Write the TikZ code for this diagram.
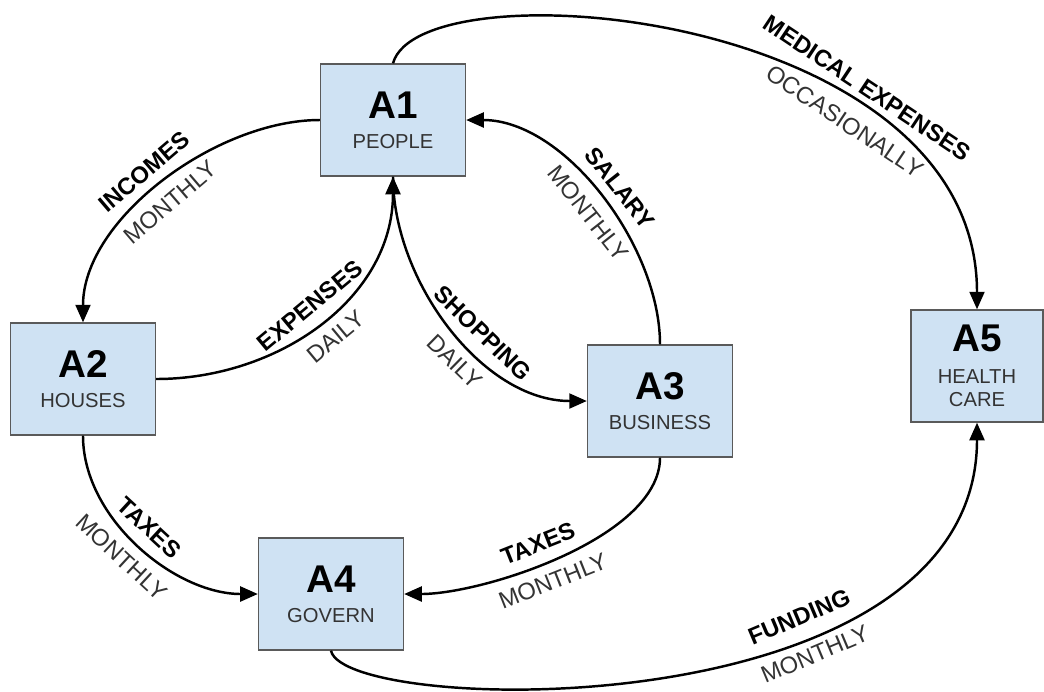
\documentclass[tikz,border=0pt]{standalone}
\usepackage{fontspec}
\setmainfont{Liberation Sans}
\usepackage{tikz}
\usetikzlibrary{arrows.meta}

\definecolor{boxfill}{HTML}{CFE2F3}
\definecolor{boxline}{HTML}{5A5A5A}
\definecolor{subtext}{HTML}{333333}

\newcommand{\boxid}[1]{{\fontsize{22}{24}\selectfont\bfseries #1}}
\newcommand{\boxsub}[1]{{\fontsize{11.5}{15}\selectfont\color{subtext}#1}}

\tikzset{
  blk/.style={draw=boxline, line width=0.8pt, fill=boxfill, minimum width=2.9cm, minimum height=2.24cm, align=center, inner sep=2pt},
  flow/.style={line width=1.4pt, -{Triangle[length=10pt,width=8.5pt]}},
  what/.style={font=\fontsize{13.5}{15}\selectfont\bfseries, sloped, inner sep=2pt},
  when/.style={font=\fontsize{13.5}{15}\selectfont, text=subtext, sloped, inner sep=2pt}
}

\begin{document}
\begin{tikzpicture}[x=0.02cm, y=0.02cm]
    \useasboundingbox (0,0) rectangle (1044,-691);

    % Boxes
    \node[blk] (a1) at (393,-120) {\boxid{A1}\\[5pt]\boxsub{PEOPLE}};
    \node[blk] (a2) at (83,-379) {\boxid{A2}\\[5pt]\boxsub{HOUSES}};
    \node[blk] (a3) at (660,-401) {\boxid{A3}\\[5pt]\boxsub{BUSINESS}};
    \node[blk] (a4) at (331,-594) {\boxid{A4}\\[5pt]\boxsub{GOVERN}};
    \node[blk, minimum width=2.64cm] (a5) at (977,-366) {\boxid{A5}\\[6pt]\boxsub{HEALTH}\\[1pt]\boxsub{CARE}};

    % Flows between boxes
    \draw[flow] (a1.west) to[out=180, in=90, looseness=0.85]
        node[what, above=4pt, pos=0.52] (incomes) {INCOMES}
        node[when, below=4pt, pos=0.52] (incomesw) {MONTHLY} (a2.north);
    \draw[flow] (a2.east) to[out=0, in=-90]
        node[what, above=4pt, pos=0.51] (expenses) {EXPENSES}
        node[when, below=4pt, pos=0.51] (expensesw) {DAILY} (a1.south);
    \draw[flow] (a1.south) to[out=-90, in=180, looseness=0.9]
        node[what, above=4pt, pos=0.58] (shopping) {SHOPPING}
        node[when, below=4pt, pos=0.58] (shoppingw) {DAILY} (a3.west);
    \draw[flow] (a3.north) to[out=90, in=0, looseness=0.85]
        node[what, above=4pt, pos=0.48] (salary) {SALARY}
        node[when, below=4pt, pos=0.48] (salaryw) {MONTHLY} (a1.east);
    \draw[flow] (a2.south) to[out=-90, in=180, looseness=0.9]
        node[what, above=4pt, pos=0.48] (taxesh) {TAXES}
        node[when, below=4pt, pos=0.48] (taxeshw) {MONTHLY} (a4.west);
    \draw[flow] (a3.south) to[out=-90, in=0, looseness=0.7]
        node[what, above=4pt, pos=0.55] (taxesb) {TAXES}
        node[when, below=4pt, pos=0.55] (taxesbw) {MONTHLY} (a4.east);

    % Long curves to health care
    \draw[flow] (a1.north) .. controls +(27,99) and +(0,301) .. (a5.north)
        node[what, above=4pt, pos=0.7] (medical) {MEDICAL EXPENSES}
        node[when, below=4pt, pos=0.7] (medicalw) {OCCASIONALLY};
    \draw[flow] (a4.south) .. controls +(14,-65) and +(0,-308) .. (a5.south)
        node[what, above=4pt, pos=0.66] (funding) {FUNDING}
        node[when, below=4pt, pos=0.66] (fundingw) {MONTHLY};
\end{tikzpicture}
\end{document}
